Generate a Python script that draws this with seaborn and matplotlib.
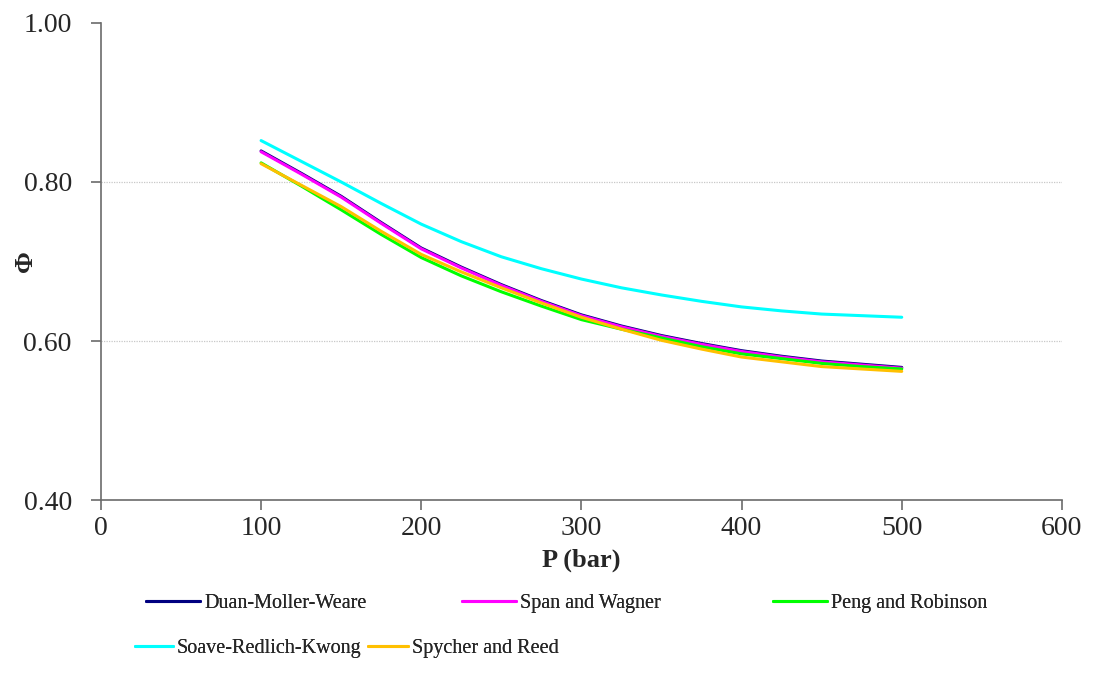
import numpy as np
import pandas as pd
import matplotlib
matplotlib.use("Agg")
import matplotlib.pyplot as plt
import seaborn as sns
from matplotlib.ticker import FormatStrFormatter

# Fugacity coefficient vs pressure
pressure = [100, 125, 150, 175, 200, 225, 250, 275, 300,
            325, 350, 375, 400, 425, 450, 475, 500]
duan = [0.839, 0.811, 0.782, 0.749, 0.717, 0.693, 0.671, 0.651, 0.633,
        0.619, 0.607, 0.597, 0.588, 0.581, 0.575, 0.571, 0.567]
span = [0.838, 0.810, 0.781, 0.748, 0.716, 0.692, 0.670, 0.650, 0.632,
        0.618, 0.606, 0.596, 0.587, 0.580, 0.574, 0.570, 0.566]
peng = [0.824, 0.795, 0.765, 0.734, 0.705, 0.682, 0.662, 0.644, 0.627,
        0.615, 0.604, 0.593, 0.584, 0.578, 0.572, 0.568, 0.565]
srk = [0.852, 0.826, 0.800, 0.773, 0.747, 0.725, 0.706, 0.691, 0.678,
       0.667, 0.658, 0.650, 0.643, 0.638, 0.634, 0.632, 0.630]
spycher = [0.823, 0.796, 0.769, 0.738, 0.709, 0.687, 0.667, 0.648, 0.630,
           0.615, 0.601, 0.590, 0.580, 0.574, 0.568, 0.565, 0.562]

models = ["Duan-Moller-Weare", "Span and Wagner", "Peng and Robinson",
          "Soave-Redlich-Kwong", "Spycher and Reed"]
colors = ["#000080", "#FF00FF", "#00FF00", "#00FFFF", "#FFC000"]

frames = []
for name, vals in zip(models, [duan, span, peng, srk, spycher]):
    frames.append(pd.DataFrame({"P": pressure, "phi": vals, "model": name}))
df = pd.concat(frames, ignore_index=True)

sns.set_style("white")
plt.rcParams["font.family"] = ["Liberation Serif", "DejaVu Serif"]

fig = plt.figure(figsize=(10.97, 6.91), dpi=100)
ax = fig.add_axes([0.092, 0.276, 0.876, 0.691])

sns.lineplot(data=df, x="P", y="phi", hue="model", hue_order=models,
             palette=colors, linewidth=2.2, sort=False, legend=False, ax=ax)

ax.set_xlim(0, 600)
ax.set_ylim(0.40, 1.00)
ax.set_xticks(range(0, 601, 100))
ax.set_yticks([0.40, 0.60, 0.80, 1.00])
ax.yaxis.set_major_formatter(FormatStrFormatter("%.2f"))
ax.tick_params(axis="both", labelsize=20, length=7, width=1.2,
               color="#6b6b6b", direction="out", bottom=True, left=True)
ax.tick_params(axis="y", pad=14)
ax.tick_params(axis="x", pad=4)
ax.yaxis.grid(True, linestyle=(0, (1, 1)), color="#c8c8c8", linewidth=0.9)
ax.xaxis.grid(False)
gl = ax.yaxis.get_gridlines()
gl[0].set_visible(False)
gl[-1].set_visible(False)
for s in ["top", "right"]:
    ax.spines[s].set_visible(False)
for s in ["left", "bottom"]:
    ax.spines[s].set_color("#6b6b6b")
    ax.spines[s].set_linewidth(1.2)

ax.set_xlabel("P (bar)", fontsize=19, fontweight="bold", labelpad=6)
ax.set_ylabel("Φ", fontsize=19, fontweight="bold")
ax.yaxis.set_label_coords(-0.066, 0.5)

# Excel-style legend: entries placed one by one, rows do not share columns
fs = 14.5
fs_px = fs * 100 / 72
lines = ax.get_lines()
slots = [(146, 603, 54), (462, 603, 54), (773, 603, 54),
         (135, 648, 38), (368, 648, 40)]
for line, name, (xp, yp, hl) in zip(lines, models, slots):
    leg = fig.legend([line], [name], loc="center left",
                     bbox_to_anchor=(xp / 1097, 1 - yp / 691),
                     frameon=False, fontsize=fs, handlelength=hl / fs_px,
                     handletextpad=4 / fs_px, borderpad=0, borderaxespad=0)
    fig.add_artist(leg)

fig.savefig("out.png", dpi=100)
